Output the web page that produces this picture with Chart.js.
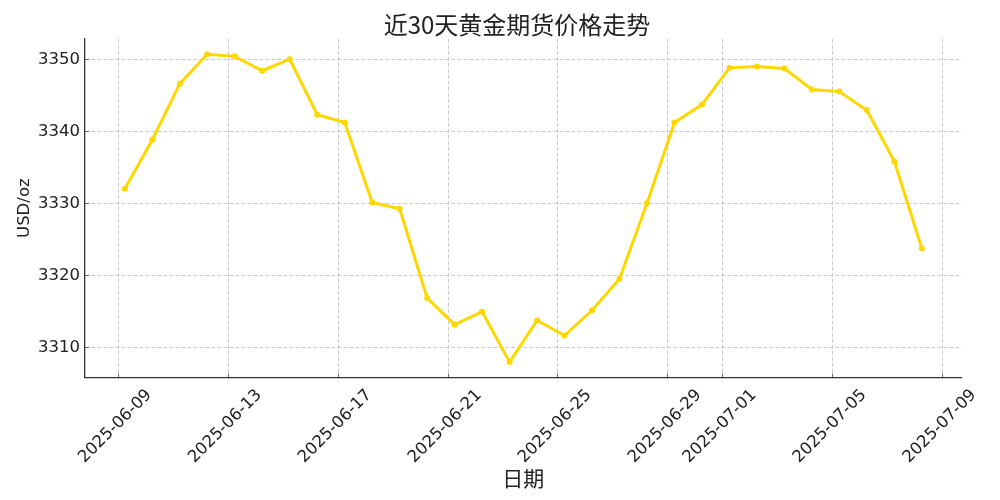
<!DOCTYPE html>
<html>
<head>
<meta charset="utf-8">
<script src="https://cdn.jsdelivr.net/npm/chart.js@4.4.1/dist/chart.umd.min.js"></script>
<style>
  html, body { margin: 0; padding: 0; background: #ffffff; }
  canvas { display: block; }
</style>
</head>
<body>
<canvas id="c" width="1000" height="500"></canvas>
<script>
// ---- data ----
const timestamps = [
  '2025-06-09T05:45', '2025-06-10T05:45', '2025-06-11T05:45', '2025-06-12T05:45', '2025-06-13T05:45',
  '2025-06-14T05:45', '2025-06-15T05:45', '2025-06-16T05:45', '2025-06-17T05:45', '2025-06-18T05:45',
  '2025-06-19T05:45', '2025-06-20T05:45', '2025-06-21T05:45', '2025-06-22T05:45', '2025-06-23T05:45',
  '2025-06-24T05:45', '2025-06-25T05:45', '2025-06-26T05:45', '2025-06-27T05:45', '2025-06-28T05:45',
  '2025-06-29T05:45', '2025-06-30T05:45', '2025-07-01T05:45', '2025-07-02T05:45', '2025-07-03T05:45',
  '2025-07-04T05:45', '2025-07-05T05:45', '2025-07-06T05:45', '2025-07-07T05:45', '2025-07-08T05:45'
];
const prices = [
  3332.1, 3338.9, 3346.7, 3350.8, 3350.5, 3348.5, 3350.1, 3342.4, 3341.3, 3330.2,
  3329.3, 3316.9, 3313.2, 3315.0, 3308.0, 3313.8, 3311.7, 3315.2, 3319.6, 3330.1,
  3341.3, 3343.8, 3348.9, 3349.1, 3348.8, 3345.9, 3345.6, 3343.0, 3335.9, 3323.8
];
const xTickDates = ['2025-06-09', '2025-06-13', '2025-06-17', '2025-06-21', '2025-06-25',
                    '2025-06-29', '2025-07-01', '2025-07-05', '2025-07-09'];
const yTickValues = [3310, 3320, 3330, 3340, 3350];
const chartTitle = '近30天黄金期货价格走势';
const xTitle = '日期';
const yTitle = 'USD/oz';

// ---- helpers ----
const epoch = Date.parse('2025-06-09T00:00:00Z');
function dayNum(s) {
  const iso = s.length === 10 ? s + 'T00:00:00Z' : s + ':00Z';
  return (Date.parse(iso) - epoch) / 86400000;
}
const points = timestamps.map((t, i) => ({ x: dayNum(t), y: prices[i] }));
const xs = points.map(p => p.x);
const xMinD = Math.min(...xs), xMaxD = Math.max(...xs);
const yMinD = Math.min(...prices), yMaxD = Math.max(...prices);
const xPad = (xMaxD - xMinD) * 0.05, yPad = (yMaxD - yMinD) * 0.05;

const tickFont = { family: 'DejaVu Sans', size: 16.5 };
const gridCommon = {
  color: '#c4c4c4',
  lineWidth: 0.9,
  drawTicks: true,
  tickLength: -4,
  tickColor: '#666666',
  tickWidth: 1,
  tickBorderDash: []
};
const borderCommon = { display: true, color: '#333333', width: 1.3, dash: [4, 2] };

new Chart(document.getElementById('c'), {
  type: 'line',
  data: {
    datasets: [{
      data: points,
      borderColor: '#FFD700',
      backgroundColor: '#FFD700',
      borderWidth: 3,
      pointRadius: 3,
      pointBorderWidth: 0,
      pointBackgroundColor: '#FFD700',
      tension: 0,
      fill: false
    }]
  },
  options: {
    responsive: false,
    animation: false,
    devicePixelRatio: 1,
    layout: { padding: { left: 34, right: 0, top: 0, bottom: 0 } },
    plugins: {
      legend: { display: false },
      tooltip: { enabled: false },
      title: {
        display: true,
        text: chartTitle,
        color: '#222222',
        font: { family: 'Noto Sans CJK SC', size: 24, weight: 'normal', lineHeight: 1.2 },
        padding: { top: 10, bottom: 0 }
      }
    },
    scales: {
      x: {
        type: 'linear',
        min: xMinD - xPad,
        max: xMaxD + xPad,
        afterBuildTicks(scale) {
          scale.ticks = xTickDates.map(d => ({ value: dayNum(d) }));
        },
        afterFit(scale) { scale.height = 122.5; },
        ticks: {
          autoSkip: false,
          minRotation: 45,
          maxRotation: 45,
          labelOffset: 31,
          padding: 12,
          color: '#222222',
          font: tickFont,
          callback: (v, i) => xTickDates[i]
        },
        grid: gridCommon,
        border: borderCommon,
        title: {
          display: true,
          text: xTitle,
          color: '#222222',
          font: { family: 'Noto Sans CJK SC', size: 21, lineHeight: 1.2 },
          padding: { top: 0, bottom: 9 }
        }
      },
      y: {
        type: 'linear',
        position: 'left',
        min: yMinD - yPad,
        max: yMaxD + yPad,
        afterBuildTicks(scale) {
          scale.ticks = yTickValues.map(v => ({ value: v }));
        },
        afterFit(scale) { scale.width = 51; },
        ticks: {
          padding: 9,
          color: '#222222',
          font: tickFont,
          callback: v => String(v)
        },
        grid: gridCommon,
        border: borderCommon,
        title: {
          display: true,
          text: yTitle,
          color: '#222222',
          font: { family: 'DejaVu Sans', size: 16.5, lineHeight: 1.2 },
          padding: { top: -19, bottom: 0 }
        }
      },
      yR: {
        type: 'linear',
        position: 'right',
        display: true,
        afterFit(scale) { scale.width = 38.3; },
        ticks: { display: false },
        grid: { display: false, drawTicks: false },
        border: { display: false }
      }
    }
  }
});
</script>
</body>
</html>
